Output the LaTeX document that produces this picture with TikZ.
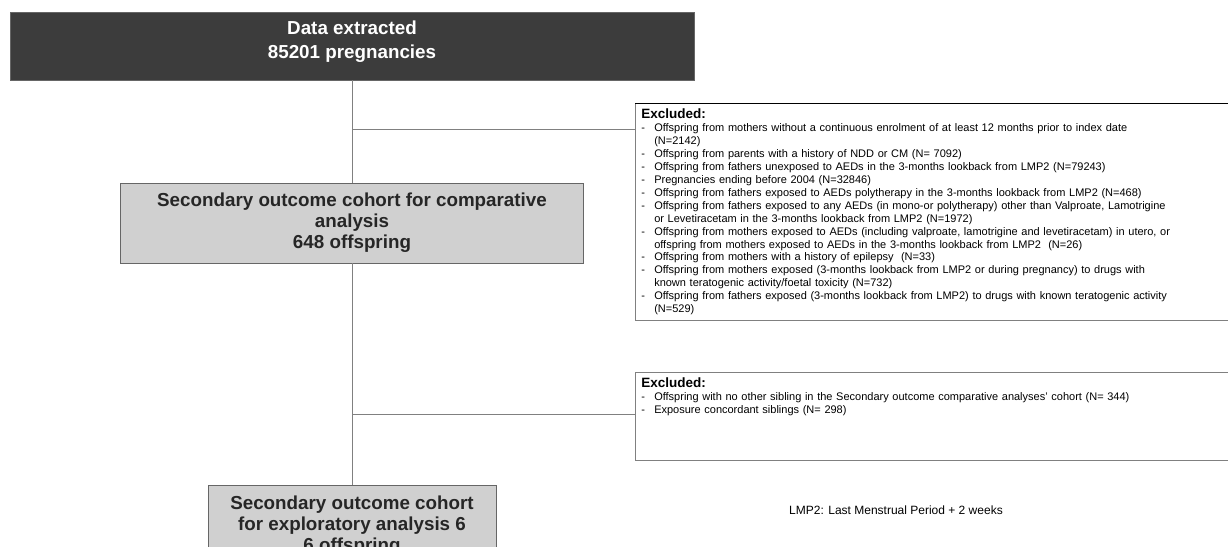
\documentclass[tikz,border=0pt]{standalone}
\usepackage{fontspec}
\setmainfont{Liberation Sans}
\usetikzlibrary{positioning}

\definecolor{cohortdark}{HTML}{3C3C3C}
\definecolor{cohortlight}{HTML}{D0D0D0}
\definecolor{linkgrey}{HTML}{808080}

% dash-led lines of the exclusion lists
\newcommand{\xitem}[1]{\makebox[13pt][l]{-}#1}
\newcommand{\xmore}[1]{\hspace*{13pt}#1}
\newcommand{\xhead}{{\bfseries\fontsize{13.5}{16}\selectfont Excluded:}}

\begin{document}
\begin{tikzpicture}[x=1pt, y=-1pt,
    cohort/.style={draw=black!60, line width=0.6pt, fill=cohortlight, text=black!85,
        font=\bfseries\fontsize{18.8}{21}\selectfont, align=center, inner sep=0pt},
    extracted/.style={cohort, fill=cohortdark, text=white},
    excluded/.style={draw=linkgrey, line width=0.5pt, fill=white, anchor=north west,
        text width=640pt, align=left, inner xsep=6pt, inner ysep=5pt,
        font=\fontsize{11}{12.9}\selectfont},
    link/.style={draw=linkgrey, line width=0.6pt}]
    \useasboundingbox (0,0) rectangle (1228,546);
    \clip (0,0) rectangle (1228,546);

    \node[extracted, minimum width=684pt, minimum height=68pt, text depth=13pt,
        font=\bfseries\fontsize{18.8}{24}\selectfont] (data) at (352,46)
        {Data extracted\\85201 pregnancies};
    \node[cohort, minimum width=463pt, minimum height=80pt] (comp) at (352,223)
        {Secondary outcome cohort for comparative\\analysis\\648 offspring};
    \node[cohort, anchor=north, minimum width=288pt, minimum height=80pt] (expl) at (352,485)
        {Secondary outcome cohort\\for exploratory analysis 6\\6 offspring};

    \node[excluded] (excl1) at (635,103) {\xhead\\[1pt]
        \xitem{Offspring from mothers without a continuous enrolment of at least 12 months prior to index date}\\
        \xmore{(N=2142)}\\
        \xitem{Offspring from parents with a history of NDD or CM (N= 7092)}\\
        \xitem{Offspring from fathers unexposed to AEDs in the 3-months lookback from LMP2 (N=79243)}\\
        \xitem{Pregnancies ending before 2004 (N=32846)}\\
        \xitem{Offspring from fathers exposed to AEDs polytherapy in the 3-months lookback from LMP2 (N=468)}\\
        \xitem{Offspring from fathers exposed to any AEDs (in mono-or polytherapy) other than Valproate, Lamotrigine}\\
        \xmore{or Levetiracetam in the 3-months lookback from LMP2 (N=1972)}\\
        \xitem{Offspring from mothers exposed to AEDs (including valproate, lamotrigine and levetiracetam) in utero, or}\\
        \xmore{offspring from mothers exposed to AEDs in the 3-months lookback from LMP2 \ (N=26)}\\
        \xitem{Offspring from mothers with a history of epilepsy \ (N=33)}\\
        \xitem{Offspring from mothers exposed (3-months lookback from LMP2 or during pregnancy) to drugs with}\\
        \xmore{known teratogenic activity/foetal toxicity (N=732)}\\
        \xitem{Offspring from fathers exposed (3-months lookback from LMP2) to drugs with known teratogenic activity}\\
        \xmore{(N=529)}};
    \draw[black, line width=0.9pt] (excl1.north west) -- (excl1.north east);

    \node[excluded, text depth=68pt] (excl2) at (635,372) {\xhead\\[1pt]
        \xitem{Offspring with no other sibling in the Secondary outcome comparative analyses' cohort (N= 344)}\\
        \xitem{Exposure concordant siblings (N= 298)}};

    \node[font=\fontsize{12}{14}\selectfont] (lmp) at (896,510)
        {LMP2: Last Menstrual Period + 2 weeks};

    \coordinate (split1) at (352,129);
    \coordinate (split2) at (352,414);
    \draw[link] (data) -- (comp);
    \draw[link] (comp) -- (expl);
    \draw[link] (split1) -- (split1 -| excl1.west);
    \draw[link] (split2) -- (split2 -| excl2.west);
\end{tikzpicture}
\end{document}
